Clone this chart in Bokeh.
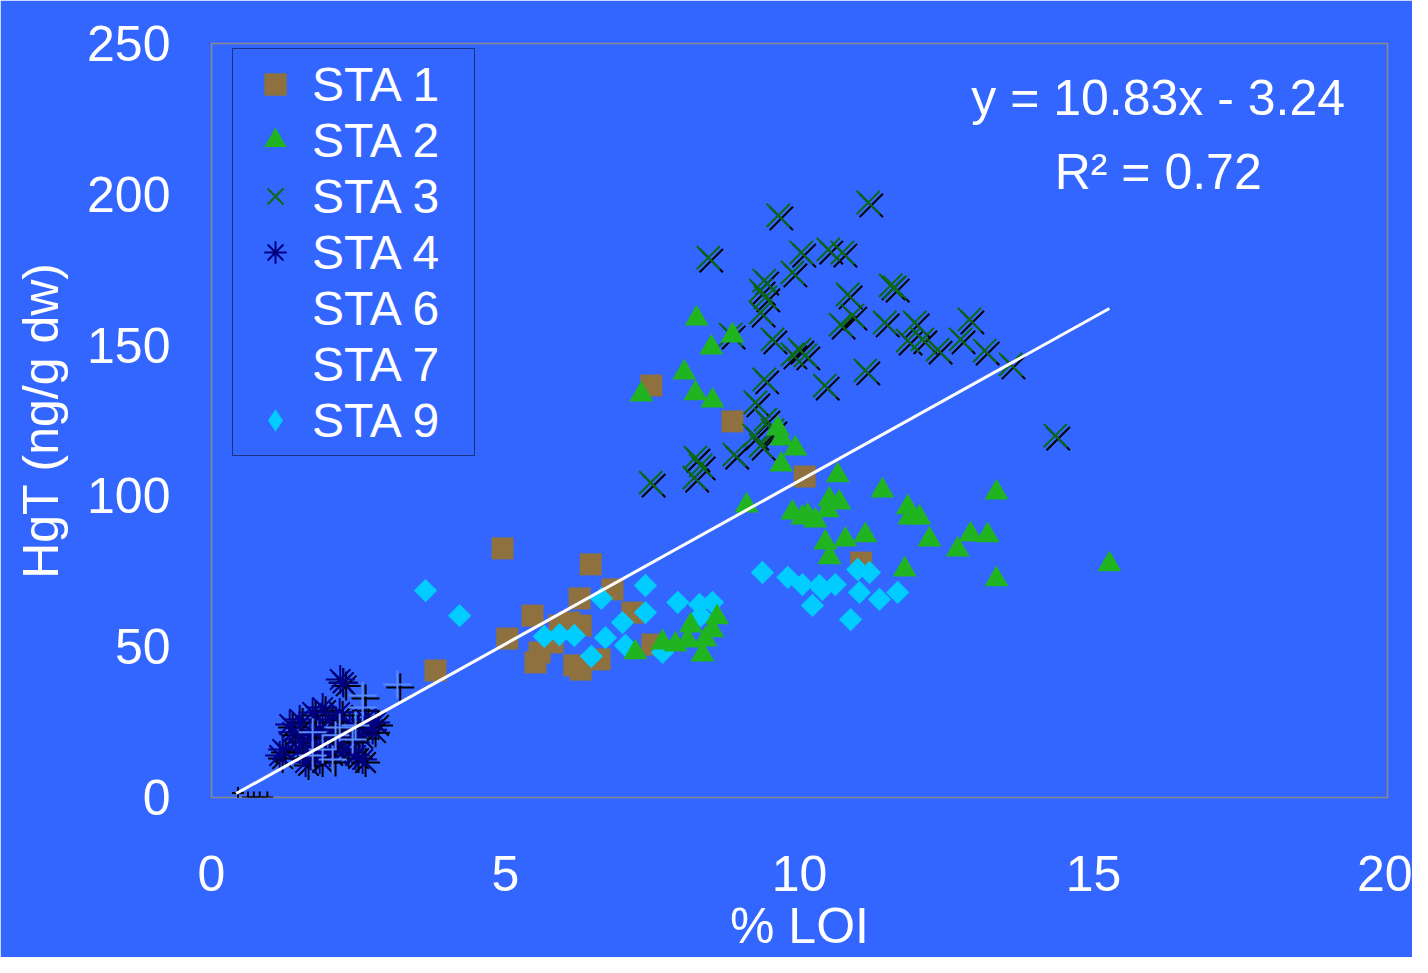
import numpy as np
from bokeh.plotting import figure
from bokeh.models import Range1d, Legend, LegendItem, Label, FixedTicker
from bokeh.transform import dodge
from bokeh.embed import file_html
from bokeh.resources import INLINE

# ---------------- data ----------------
sta1_x = [3.81, 4.95, 5.03, 5.46, 5.51, 5.58, 5.80, 5.92, 6.09, 6.17, 6.26, 6.28, 6.28,
          6.45, 6.60, 6.82, 7.16, 7.48, 7.50, 8.86, 10.09, 11.05]
sta1_y = [42.1, 82.6, 52.7, 60.3, 44.8, 48.1, 51.4, 57.0, 58.0, 43.8, 66.0, 57.0, 42.4,
          77.3, 45.8, 69.0, 61.3, 136.6, 50.7, 124.7, 106.4, 77.9]

sta2_x = [8.25, 7.31, 8.04, 8.23, 8.50, 8.86, 8.52, 9.63, 9.69, 9.93, 9.69, 9.10, 9.88,
          10.05, 10.14, 10.27, 10.65, 10.51, 10.68, 10.48, 10.44, 10.51, 10.78, 11.12,
          11.41, 11.84, 11.87, 12.04, 12.21, 11.79, 12.69, 12.91, 13.20, 13.35, 13.35,
          15.27, 7.21, 7.67, 7.89, 8.10, 8.35, 8.40, 8.52, 8.60, 8.15]
sta2_y = [158.8, 133.6, 140.9, 134.0, 149.2, 153.2, 131.6, 122.3, 119.0, 115.7, 110.4,
          96.8, 94.5, 92.8, 93.5, 91.8, 106.8, 98.8, 97.8, 95.2, 84.5, 79.6, 85.5, 86.9,
          101.8, 96.2, 92.8, 92.8, 85.5, 75.6, 82.2, 87.2, 86.9, 101.1, 72.3,
          77.3, 48.1, 51.4, 50.7, 52.0, 47.4, 52.4, 55.4, 59.7, 57.0]

sta3_x = [9.64, 11.17, 8.45, 10.03, 10.49, 10.73, 9.40, 9.88, 9.34, 9.42, 9.34, 10.82,
          10.90, 10.70, 11.55, 11.62, 11.45, 11.96, 11.84, 12.09, 12.35, 12.89, 12.74,
          13.15, 13.59, 14.35, 8.83, 9.54, 10.00, 9.88, 10.10, 11.12, 9.40, 10.43, 9.25,
          9.42, 9.34, 8.89, 8.23, 8.32, 8.21, 7.47, 9.54, 9.23]
sta3_y = [193.0, 197.3, 179.0, 180.7, 181.7, 180.7, 171.4, 174.1, 168.1, 165.8, 160.8,
          166.8, 159.8, 156.8, 169.8, 169.1, 157.5, 157.5, 151.5, 151.9, 148.5, 158.5,
          151.9, 148.2, 143.6, 120.0, 153.5, 151.9, 148.5, 146.9, 146.6, 141.6, 138.6,
          136.6, 131.0, 125.3, 116.7, 113.7, 112.7, 110.1, 106.1, 104.4, 121.7, 120.0]

sta4_x = [2.19, 2.24, 1.89, 1.72, 1.50, 1.33, 1.38, 1.21, 1.16, 1.50, 1.67, 1.84, 2.01,
          2.18, 2.35, 2.52, 2.74, 2.79, 2.45, 2.57, 2.28, 2.01, 1.84, 1.60, 2.18, 1.72,
          2.01, 1.50, 2.62]
sta4_y = [39.1, 38.0, 29.8, 28.2, 25.9, 24.2, 21.6, 15.9, 13.9, 15.9, 20.6, 22.5, 25.9,
          28.2, 23.9, 20.6, 22.5, 24.9, 13.9, 12.6, 15.9, 14.9, 12.6, 11.6, 19.2, 17.2,
          20.6, 19.2, 25.9]

sta6_x = [3.16, 2.57, 2.57, 2.18, 1.89, 1.72, 2.06, 2.40, 2.11, 2.45, 1.72]
sta6_y = [37.5, 33.8, 29.8, 23.2, 15.9, 13.9, 12.6, 19.2, 20.6, 23.9, 21.6]

sta7_x = [0.45, 0.62, 0.72, 0.82, 0.95]
sta7_y = [1.5, 0.0, 0.0, 0.0, 0.0]

sta9_x = [3.64, 4.22, 5.66, 5.92, 6.17, 6.63, 6.46, 6.70, 6.99, 7.04, 7.38, 7.38, 7.67,
          7.93, 8.30, 8.52, 8.32, 9.37, 9.80, 10.05, 10.22, 10.34, 10.61, 10.99, 11.19,
          11.02, 11.36, 11.67, 10.87, 10.39]
sta9_y = [68.6, 60.3, 53.4, 54.0, 53.7, 66.0, 46.8, 53.0, 58.0, 50.4, 70.3, 61.3, 48.1,
          64.7, 64.0, 64.7, 60.3, 74.6, 73.0, 70.6, 63.7, 70.3, 70.6, 75.6, 74.6,
          68.0, 65.7, 68.0, 59.0, 69.0]

labels = ["STA 1", "STA 2", "STA 3", "STA 4", "STA 6", "STA 7", "STA 9"]
x_ticks = [0, 5, 10, 15, 20]
y_ticks = [0, 50, 100, 150, 200, 250]

slope, intercept = 10.83, -3.24
trend_x = np.array([0.42, 15.27])
eq_text = "y = 10.83x - 3.24"
r2_text = "R\u00b2 = 0.72"

# ---------------- styling ----------------
BG = "#3366FF"
FONT = "Liberation Sans"
FS = "50px"

p = figure(width=1412, height=957, output_backend="svg", toolbar_location=None,
           x_range=Range1d(0, 20), y_range=Range1d(0, 250),
           min_border_left=211, min_border_right=25, min_border_top=43,
           min_border_bottom=160)
p.background_fill_color = BG
p.border_fill_color = BG
p.outline_line_color = "#8A8A8A"
p.outline_line_width = 1.5
p.xgrid.visible = False
p.ygrid.visible = False

for ax in (p.xaxis[0], p.yaxis[0]):
    ax.axis_line_color = None
    ax.major_tick_line_color = None
    ax.minor_tick_line_color = None
    ax.major_tick_out = 0
    ax.major_tick_in = 0
    ax.major_label_text_color = "white"
    ax.major_label_text_font = FONT
    ax.major_label_text_font_size = FS
    ax.axis_label_text_color = "white"
    ax.axis_label_text_font = FONT
    ax.axis_label_text_font_size = FS
    ax.axis_label_text_font_style = "normal"

p.xaxis.ticker = FixedTicker(ticks=x_ticks)
p.yaxis.ticker = FixedTicker(ticks=y_ticks)
p.xaxis.axis_label = "% LOI"
p.yaxis.axis_label = "HgT (ng/g dw)"
p.xaxis.major_label_standoff = 58
p.xaxis.axis_label_standoff = 4
p.yaxis.major_label_standoff = 41
p.yaxis.axis_label_standoff = 15

# shadows (offset copies in black)
sx, sy = 0.05, -1.0
for xs, ys, mk, sz in ((sta3_x, sta3_y, "x", 33), (sta4_x, sta4_y, "asterisk", 29),
                       (sta6_x, sta6_y, "cross", 28)):
    src = dict(x=xs, y=ys)
    p.scatter(x=dodge("x", sx), y=dodge("y", sy), source=src, marker=mk, size=sz,
              line_color="black", line_width=2)

r1 = p.scatter(sta1_x, sta1_y, marker="square", size=22, fill_color="#8F703F", line_color=None)
r3 = p.scatter(sta3_x, sta3_y, marker="x", size=33, line_color="#0B6B12", line_width=2)
r4 = p.scatter(sta4_x, sta4_y, marker="asterisk", size=29, line_color="#000080", line_width=2)
r6 = p.scatter(sta6_x, sta6_y, marker="cross", size=28, line_color="#5A8AFF", line_width=2)
r7 = p.scatter(sta7_x, sta7_y, marker="cross", size=12, line_color="black", line_width=2)
# diamond shape used by the legend; hidden underneath the real diamonds
r9_leg = p.scatter(sta9_x, sta9_y, marker="diamond", size=22, fill_color="#00CCFF",
                   line_color=None)
r9 = p.scatter(sta9_x, sta9_y, marker="square", angle=np.pi / 4, size=16.5,
               fill_color="#00CCFF", line_color=None)
r2 = p.scatter(sta2_x, sta2_y, marker="triangle", size=24, fill_color="#20B420", line_color=None)

# invisible stand-ins so that STA 6 and STA 7 show no symbol in the legend
r6_leg = p.scatter(sta6_x, sta6_y, marker="cross", size=23, line_alpha=0, fill_alpha=0)
r7_leg = p.scatter(sta7_x, sta7_y, marker="cross", size=10, line_alpha=0, fill_alpha=0)

p.line(trend_x, slope * trend_x + intercept, line_color="white", line_width=3)

legend = Legend(items=[LegendItem(label=l, renderers=[r]) for l, r in
                       zip(labels, [r1, r2, r3, r4, r6_leg, r7_leg, r9_leg])],
                location=(21, 341), orientation="vertical",
                padding=7, spacing=0, margin=0,
                glyph_width=70, glyph_height=56, label_height=56, label_width=155,
                label_standoff=2,
                label_text_font=FONT, label_text_font_size="48px", label_text_color="white",
                border_line_color="black", border_line_width=1.5,
                background_fill_alpha=0)
p.add_layout(legend, "center")

p.add_layout(Label(x=16.1, y=232, text=eq_text, text_align="center",
                   text_baseline="alphabetic", text_color="white",
                   text_font=FONT, text_font_size=FS))
p.add_layout(Label(x=16.1, y=207.5, text=r2_text, text_align="center",
                   text_baseline="alphabetic", text_color="white",
                   text_font=FONT, text_font_size=FS))

html = file_html(p, INLINE, title="HgT vs LOI")
html = html.replace(
    "<body>",
    '<body style="margin:8px; background: linear-gradient(to bottom, #0000FF 0 9px, transparent 9px), '
    'linear-gradient(to right, #CFDCF2 0 8px, transparent 8px), #3366FF;">', 1)
open("out.html", "w").write(html)
